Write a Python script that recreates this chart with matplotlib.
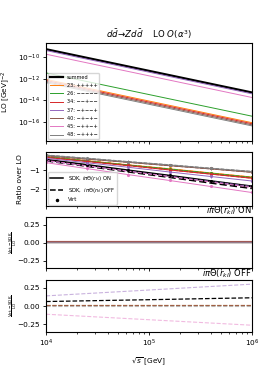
import matplotlib
matplotlib.use('Agg')
import matplotlib.pyplot as plt
from matplotlib.lines import Line2D
import numpy as np

# sqrt(s) sample points [GeV]
sqrts = [1.0e4, 2.51e4, 6.31e4, 1.585e5, 3.98e5, 1.0e6]

hel_ids = ['23', '26', '34', '37', '40', '45', '48']
hel_labels = ['23: +++++', '26: −−−−−', '34: −−+−−', '37: −+−−+',
              '40: −+−+−', '45: −++−+', '48: −+++−']
hel_colors = ['C1', 'C2', 'C3', 'C4', 'C5', 'C6', 'C7']

# LO cross sections [GeV^-2]
lo_summed = [5.5e-10, 8.7e-11, 1.38e-11, 2.19e-12, 3.47e-13, 5.5e-14]
lo_hel = {
    '23': [8.9e-13, 1.41e-13, 2.24e-14, 3.55e-15, 5.6e-16, 8.9e-17],
    '26': [3.55e-12, 5.6e-13, 8.9e-14, 1.41e-14, 2.24e-15, 3.55e-16],
    '34': [7.1e-13, 1.12e-13, 1.78e-14, 2.82e-15, 4.5e-16, 7.1e-17],
    '37': [4.17e-10, 6.6e-11, 1.05e-11, 1.66e-12, 2.63e-13, 4.17e-14],
    '40': [5.6e-13, 8.9e-14, 1.41e-14, 2.24e-15, 3.55e-16, 5.6e-17],
    '45': [1.9e-10, 3.0e-11, 4.8e-12, 7.6e-13, 1.2e-13, 1.9e-14],
    '48': [4.5e-13, 7.1e-14, 1.12e-14, 1.78e-15, 2.82e-16, 4.5e-17],
}

# Virt / LO
virt_summed = [-0.42, -0.70, -0.99, -1.27, -1.56, -1.84]
virt_hel = {
    '23': [-0.25, -0.47, -0.69, -0.90, -1.12, -1.34],
    '26': [-0.27, -0.49, -0.71, -0.93, -1.15, -1.37],
    '34': [-0.29, -0.51, -0.73, -0.96, -1.18, -1.40],
    '37': [-0.35, -0.59, -0.83, -1.08, -1.32, -1.56],
    '40': [-0.20, -0.38, -0.55, -0.73, -0.90, -1.08],
    '45': [-0.58, -0.90, -1.22, -1.53, -1.85, -2.17],
    '48': [-0.18, -0.35, -0.53, -0.70, -0.88, -1.05],
}
virt_err = [0.06, 0.06, 0.06, 0.06, 0.06, 0.06]

# (Virt - SDK)/LO, i pi Theta(r_kl) ON
don_summed = [0.010, 0.010, 0.010, 0.010, 0.010, 0.010]
don_hel = {
    '23': [0.015, 0.015, 0.015, 0.015, 0.015, 0.015],
    '26': [0.010, 0.010, 0.010, 0.010, 0.010, 0.010],
    '34': [0.020, 0.020, 0.020, 0.020, 0.020, 0.020],
    '37': [0.005, 0.005, 0.005, 0.005, 0.005, 0.005],
    '40': [0.022, 0.022, 0.022, 0.022, 0.022, 0.022],
    '45': [0.008, 0.008, 0.008, 0.008, 0.008, 0.008],
    '48': [0.012, 0.012, 0.012, 0.012, 0.012, 0.012],
}

# (Virt - SDK)/LO, i pi Theta(r_kl) OFF
doff_summed = [0.063, 0.073, 0.083, 0.093, 0.104, 0.114]
doff_hel = {
    '23': [0.020, 0.020, 0.020, 0.020, 0.020, 0.020],
    '26': [0.010, 0.010, 0.010, 0.010, 0.010, 0.010],
    '34': [0.015, 0.015, 0.015, 0.015, 0.015, 0.015],
    '37': [0.140, 0.172, 0.204, 0.236, 0.268, 0.300],
    '40': [0.022, 0.022, 0.022, 0.022, 0.022, 0.022],
    '45': [-0.110, -0.140, -0.170, -0.200, -0.230, -0.260],
    '48': [0.000, 0.000, 0.000, 0.000, 0.000, 0.000],
}

fs = 5.3
fig = plt.figure(figsize=(2.66, 3.72), dpi=100)
L, W = 0.173, 0.774
ax1 = fig.add_axes([L, 0.621, W, 0.263])
ax2 = fig.add_axes([L, 0.446, W, 0.145])
ax3 = fig.add_axes([L, 0.280, W, 0.137])
ax4 = fig.add_axes([L, 0.108, W, 0.140])

x = np.array(sqrts)

# ---- LO panel ----
ax1.plot(x, lo_summed, color='k', lw=1.6, label='summed')
for h, lab, c in zip(hel_ids, hel_labels, hel_colors):
    ax1.plot(x, lo_hel[h], color=c, lw=0.7, label=lab)
ax1.set_yscale('log')
ax1.set_ylim(1.8e-18, 2e-9)
ax1.set_yticks([1e-10, 1e-12, 1e-14, 1e-16])
ax1.set_ylabel(r'LO [GeV]$^{-2}$', fontsize=fs)
ax1.set_title(r'$d\bar{d}\!\to\! Zd\bar{d}$    LO $O(\alpha^3)$', fontsize=6.2, pad=4)
ax1.legend(loc='lower left', fontsize=3.6, handlelength=2.6, borderaxespad=0.3,
           labelspacing=0.65)

# ---- ratio panel ----
for v, don, doff, c, lw in [(virt_summed, don_summed, doff_summed, 'k', 1.4)] + \
        [(virt_hel[h], don_hel[h], doff_hel[h], c, 0.7) for h, c in zip(hel_ids, hel_colors)]:
    v = np.array(v)
    ax2.plot(x, v - np.array(don), color=c, lw=lw, ls='-')
    ax2.plot(x, v - np.array(doff), color=c, lw=lw, ls='--')
    ax2.errorbar(x, v, yerr=virt_err, color=c, fmt='.', ms=2.5, elinewidth=0.7, capsize=0)
ax2.set_ylim(-2.9, -0.03)
ax2.set_ylabel('Ratio over LO', fontsize=fs)
h_leg = [Line2D([], [], color='k', lw=1.1, ls='-'),
         Line2D([], [], color='k', lw=1.1, ls='--'),
         Line2D([], [], color='k', marker='.', ls='none', ms=3)]
ax2.legend(h_leg, [r'SDK, $i\pi\Theta(r_{kl})$ ON', r'SDK,  $i\pi\Theta(r_{kl})$ OFF', 'Virt'],
           loc='lower left', fontsize=3.8, handlelength=2.6, borderaxespad=0.3, labelspacing=0.5)

# ---- difference panels ----
ax3.plot(x, don_summed, color='k', lw=0.9)
for h, c in zip(hel_ids, hel_colors):
    ax3.plot(x, don_hel[h], color=c, lw=0.8, alpha=0.7)
ax3.set_title(r'$i\pi\Theta(r_{kl})$ ON', loc='right', fontsize=6, pad=1.5)

ax4.plot(x, doff_summed, color='k', lw=0.9, ls='--')
for h, c in zip(hel_ids, hel_colors):
    ax4.plot(x, doff_hel[h], color=c, lw=0.8, ls='--', alpha=0.5)
ax4.set_title(r'$i\pi\Theta(r_{kl})$ OFF', loc='right', fontsize=6, pad=1.5)

for ax in (ax3, ax4):
    ax.set_ylim(-0.35, 0.36)
    ax.set_yticks([-0.25, 0.0, 0.25])
    ax.set_ylabel(r'$\frac{\mathrm{Virt}-\mathrm{SDK}}{\mathrm{LO}}$', fontsize=4.2)
    ax.yaxis.set_label_coords(-0.13, 0.5)

for ax in (ax1, ax2, ax3, ax4):
    ax.set_xscale('log')
    ax.set_xlim(1e4, 1e6)
    ax.tick_params(labelsize=fs, length=2.5, width=0.6, pad=2)
    ax.tick_params(which='minor', length=1.5, width=0.5)
for ax in (ax1, ax2, ax3):
    ax.tick_params(labelbottom=False)
ax4.set_xlabel(r'$\sqrt{s}$ [GeV]', fontsize=fs)

fig.savefig('out.png', dpi=100)
